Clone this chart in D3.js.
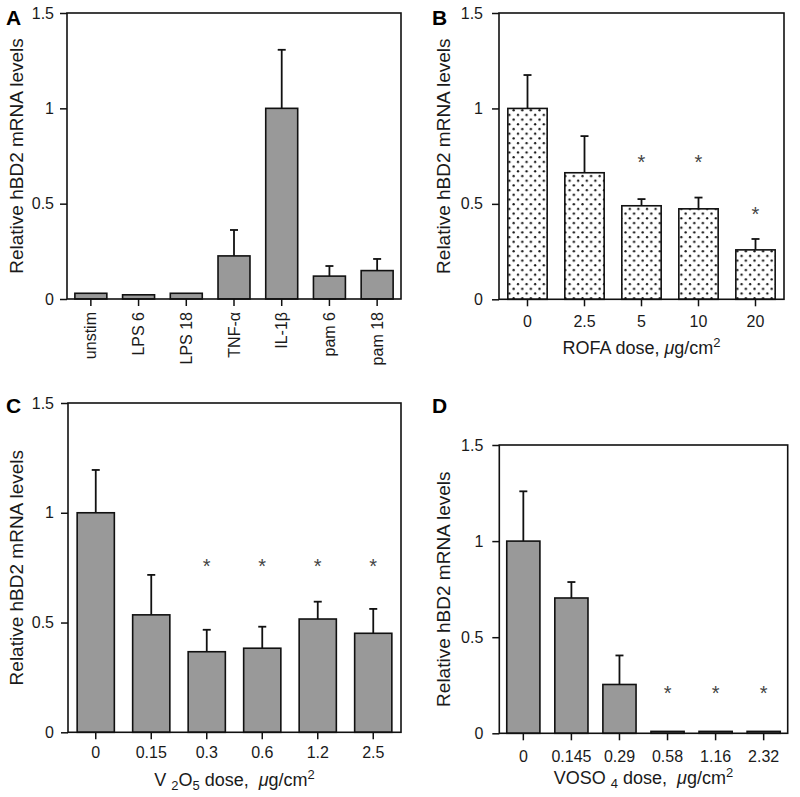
<!DOCTYPE html>
<html><head><meta charset="utf-8">
<script src="https://cdn.jsdelivr.net/npm/d3@7"></script>
<style>
body{margin:0;background:#fff}
text{font-family:"Liberation Sans",Arial,Helvetica,sans-serif;fill:#1a1a1a}
</style>
</head><body>
<svg id="chart" width="800" height="797"></svg>
<script>
// ---- data ----
const yTicks = [0, 0.5, 1, 1.5];

const catsA = ["unstim", "LPS 6", "LPS 18", "TNF-α", "IL-1β", "pam 6", "pam 18"];
const meansA = [0.03, 0.022, 0.03, 0.226, 1.0, 0.12, 0.149];
const errA = [0, 0, 0, 0.136, 0.307, 0.053, 0.061];
const starsA = [null, null, null, null, null, null, null];

const catsB = ["0", "2.5", "5", "10", "20"];
const meansB = [1.0, 0.663, 0.49, 0.474, 0.259];
const errB = [0.175, 0.192, 0.035, 0.059, 0.057];
const starsB = [null, null, 0.74, 0.74, 0.468];

const catsC = ["0", "0.15", "0.3", "0.6", "1.2", "2.5"];
const meansC = [1.0, 0.535, 0.367, 0.383, 0.516, 0.451];
const errC = [0.195, 0.182, 0.1, 0.098, 0.079, 0.111];
const starsC = [null, null, 0.776, 0.776, 0.776, 0.776];

const catsD = ["0", "0.145", "0.29", "0.58", "1.16", "2.32"];
const meansD = [1.0, 0.704, 0.254, 0.01, 0.01, 0.01];
const errD = [0.259, 0.083, 0.151, 0, 0, 0];
const starsD = [null, null, null, 0.228, 0.228, 0.228];

const yLabel = "Relative hBD2 mRNA levels";

// ---- drawing ----
const svg = d3.select("#chart");
const defs = svg.append("defs");
const pat = defs.append("pattern").attr("id", "dots").attr("patternUnits", "userSpaceOnUse")
  .attr("width", 8.6).attr("height", 9.4);
pat.append("rect").attr("width", 8.6).attr("height", 9.4).attr("fill", "#fff");
pat.append("circle").attr("cx", 2).attr("cy", 2.2).attr("r", 1.15).attr("fill", "#111");
pat.append("circle").attr("cx", 6.3).attr("cy", 6.9).attr("r", 1.15).attr("fill", "#111");

function drawPanel(cfg) {
  const g = svg.append("g");
  const y = d3.scaleLinear().domain([0, 1.5]).range([cfg.y1, cfg.y0]);
  const x = d3.scaleBand().domain(cfg.cats).range([cfg.x0, cfg.x1])
    .paddingInner(cfg.pad).paddingOuter(cfg.pad / 2);
  const data = cfg.cats.map((c, i) => ({c, m: cfg.means[i], e: cfg.err[i], s: cfg.stars[i]}));

  // error bars
  const eb = g.append("g").attr("stroke", "#111").attr("stroke-width", 1.8);
  data.filter(d => d.e > 0).forEach(d => {
    const cx = x(d.c) + x.bandwidth() / 2;
    eb.append("line").attr("x1", cx).attr("x2", cx).attr("y1", y(d.m)).attr("y2", y(d.m + d.e));
    eb.append("line").attr("x1", cx - 4).attr("x2", cx + 4).attr("y1", y(d.m + d.e)).attr("y2", y(d.m + d.e));
  });

  // bars
  g.append("g").selectAll("rect").data(data).join("rect")
    .attr("x", d => x(d.c)).attr("y", d => y(d.m))
    .attr("width", x.bandwidth()).attr("height", d => y(0) - y(d.m))
    .attr("fill", cfg.fill).attr("stroke", "#111").attr("stroke-width", 1.6);

  // stars
  g.append("g").selectAll("text").data(data.filter(d => d.s != null)).join("text")
    .attr("x", d => x(d.c) + x.bandwidth() / 2)
    .attr("y", d => y(d.s) + 11)
    .attr("text-anchor", "middle").style("font-size", "20px").style("fill", "#444")
    .text("*");

  // axes
  const ya = g.append("g").attr("transform", `translate(${cfg.x0},0)`)
    .call(d3.axisLeft(y).tickValues(yTicks).tickSize(7).tickPadding(cfg.ypad).tickFormat(d => String(d)));
  const xa = g.append("g").attr("transform", `translate(0,${cfg.y1})`)
    .call(d3.axisBottom(x).tickSize(7).tickPadding(cfg.xpad));
  [ya, xa].forEach(a => {
    a.select(".domain").remove();
    a.selectAll(".tick line").attr("stroke", "#111").attr("stroke-width", 1.5);
    a.selectAll(".tick text").style("font-size", "16px").style("font-family", null).attr("fill", "#1a1a1a");
  });
  if (cfg.rotate) {
    xa.selectAll(".tick text").attr("transform", "rotate(-90)")
      .attr("x", -13).attr("y", 0).attr("dy", "0.35em").attr("text-anchor", "end");
  }

  // frame
  g.append("rect").attr("x", cfg.x0).attr("y", cfg.y0)
    .attr("width", cfg.x1 - cfg.x0).attr("height", cfg.y1 - cfg.y0)
    .attr("fill", "none").attr("stroke", "#111").attr("stroke-width", 1.6);

  // y label
  g.append("text").attr("transform", `translate(${cfg.ylx},${(cfg.y0 + cfg.y1) / 2}) rotate(-90)`)
    .attr("text-anchor", "middle").attr("dy", "0.35em").style("font-size", "19px").text(yLabel);

  // panel letter
  g.append("text").attr("x", cfg.lx).attr("y", cfg.ly).style("font-size", "21px")
    .style("font-weight", "bold").style("fill", "#000").text(cfg.letter);

  // x title
  if (cfg.title) {
    const t = g.append("text").attr("x", (cfg.x0 + cfg.x1) / 2).attr("y", cfg.ty)
      .attr("text-anchor", "middle").style("font-size", "18px").style("white-space", "pre");
    cfg.title.forEach(p => {
      const s = t.append("tspan").style("white-space", "pre").text(p.t);
      if (p.sub) s.attr("dy", 4).style("font-size", "13px");
      if (p.sup) s.attr("dy", -7).style("font-size", "13px");
      if (p.back) s.attr("dy", p.back);
      if (p.it) s.style("font-style", "italic");
    });
  }
}

drawPanel({cats: catsA, means: meansA, err: errA, stars: starsA, x0: 67, x1: 401, y0: 13, y1: 299,
  pad: 0.33, fill: "#999", ypad: 6, xpad: 8, rotate: true, ylx: 16, lx: 6, ly: 25, letter: "A"});
drawPanel({cats: catsB, means: meansB, err: errB, stars: starsB, x0: 499, x1: 784, y0: 13, y1: 299.3,
  pad: 0.31, fill: "url(#dots)", ypad: 9, xpad: 9, ylx: 443, lx: 432, ly: 25, letter: "B",
  ty: 354, title: [{t: "ROFA dose, "}, {t: "μ", it: true}, {t: "g/cm"}, {t: "2", sup: true}]});
drawPanel({cats: catsC, means: meansC, err: errC, stars: starsC, x0: 68, x1: 401, y0: 403, y1: 732.3,
  pad: 0.33, fill: "#999", ypad: 7, xpad: 7, ylx: 16, lx: 6, ly: 413, letter: "C",
  ty: 786, title: [{t: "V "}, {t: "2", sub: true}, {t: "O", back: -4}, {t: "5", sub: true}, {t: " dose,  ", back: -4}, {t: "μ", it: true}, {t: "g/cm"}, {t: "2", sup: true}]});
drawPanel({cats: catsD, means: meansD, err: errD, stars: starsD, x0: 499.3, x1: 787.7, y0: 445, y1: 733.3,
  pad: 0.31, fill: "#999", ypad: 9, xpad: 10, ylx: 443, lx: 432, ly: 413, letter: "D",
  ty: 784, title: [{t: "VOSO "}, {t: "4", sub: true}, {t: " dose,  ", back: -4}, {t: "μ", it: true}, {t: "g/cm"}, {t: "2", sup: true}]});
</script>
</body></html>
